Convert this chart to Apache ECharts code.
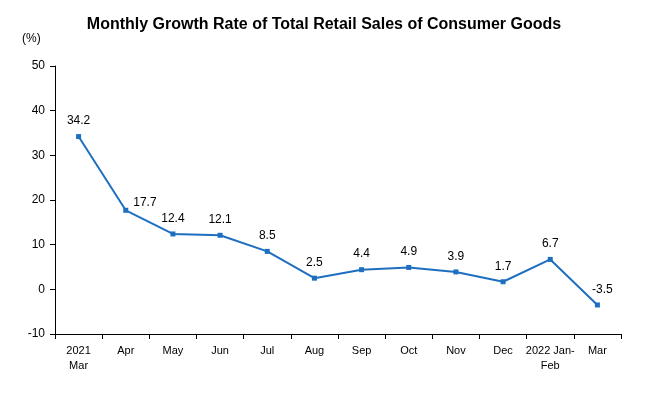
<!DOCTYPE html>
<html>
<head>
<meta charset="utf-8">
<script src="https://cdn.jsdelivr.net/npm/echarts@6/dist/echarts.min.js"></script>
<style>
  html, body { margin: 0; padding: 0; background: #fff; }
  #chart { width: 648px; height: 396px; }
</style>
</head>
<body>
<div id="chart"></div>
<script>
// 月份与增速
const months = ['2021\nMar', 'Apr', 'May', 'Jun', 'Jul', 'Aug', 'Sep', 'Oct', 'Nov', 'Dec', '2022 Jan-\nFeb', 'Mar'];
const growth = [34.2, 17.7, 12.4, 12.1, 8.5, 2.5, 4.4, 4.9, 3.9, 1.7, 6.7, -3.5];

const font = '"Liberation Sans Narrow", "Liberation Sans", Arial, sans-serif';
const chart = echarts.init(document.getElementById('chart'));

const option = {
  animation: false,
  title: {
    text: 'Monthly Growth Rate of Total Retail Sales of Consumer Goods',
    left: 319,
    textAlign: 'center',
    top: 12,
    textStyle: { fontSize: 16, fontWeight: 'bold', color: '#000', fontFamily: font }
  },
  graphic: [{
    type: 'text',
    left: 22,
    top: 33,
    style: { text: '(%)', font: '12px ' + font, fill: '#000' }
  }],
  grid: { left: 55, right: 27, top: 66, bottom: 62 },
  xAxis: {
    type: 'category',
    data: months,
    boundaryGap: true,
    axisLine: { onZero: false, lineStyle: { color: '#000', width: 1 } },
    axisTick: { show: true, length: 5, lineStyle: { color: '#000' } },
    axisLabel: { color: '#000', fontSize: 11, fontFamily: font, margin: 9, lineHeight: 15, interval: 0 }
  },
  yAxis: {
    type: 'value',
    min: -10,
    max: 50,
    interval: 10,
    splitLine: { show: false },
    axisLine: { show: true, lineStyle: { color: '#000', width: 1 } },
    axisTick: { show: true, length: 5, lineStyle: { color: '#000' } },
    axisLabel: { color: '#000', fontSize: 12, fontFamily: font, margin: 10 }
  },
  series: [{
    type: 'line',
    data: growth.map((v, i) => {
      if (i === 1) return { value: v, label: { position: 'right', offset: [-2, -8] } };
      if (i === growth.length - 1) return { value: v, label: { offset: [5, 0] } };
      return v;
    }),
    symbol: 'rect',
    symbolSize: 5,
    lineStyle: { color: '#1f6fc1', width: 2 },
    itemStyle: { color: '#1f6fc1' },
    label: {
      show: true,
      position: 'top',
      distance: 7,
      color: '#000',
      fontSize: 12,
      fontFamily: font
    }
  }]
};

chart.setOption(option);
</script>
</body>
</html>
